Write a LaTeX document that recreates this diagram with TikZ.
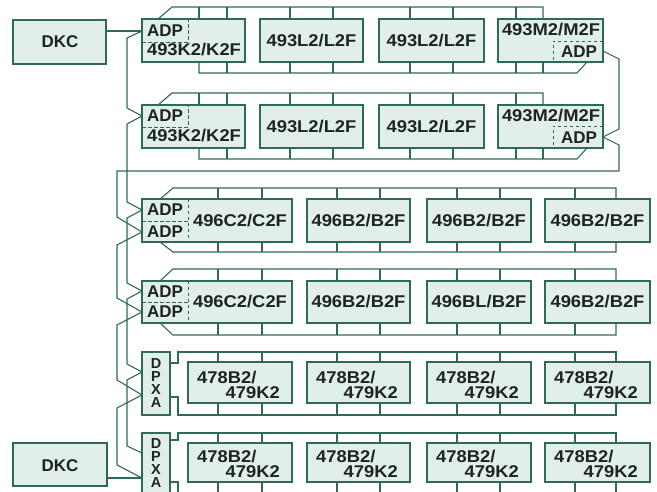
\documentclass[tikz,border=0pt]{standalone}
\usepackage{fontspec}
\setmainfont{Liberation Sans}
\newfontfamily\labf[FakeStretch=1.08]{Liberation Sans}
\definecolor{lc}{HTML}{2E6B57}
\definecolor{bf}{HTML}{E2EEE8}
\definecolor{tc}{HTML}{1E2421}
\tikzset{
 box/.style={draw=lc, fill=bf, line width=1.1pt, inner sep=0pt, outer sep=0pt, anchor=north west},
 wire/.style={draw=lc, line width=1.1pt},
 dsh/.style={draw=lc, line width=0.9pt, dash pattern=on 3.5pt off 2.5pt},
 txt/.style={text=tc, font=\bfseries\fontsize{17}{17}\selectfont, inner sep=0pt, text height=12pt, text depth=0pt},
 vtxt/.style={text=tc, font=\bfseries\fontsize{14.5}{15}\selectfont, inner sep=0pt, text height=10.4pt, text depth=0pt},
 mtxt/.style={text=tc, font=\labf\bfseries\fontsize{17}{17}\selectfont, inner sep=0pt, text height=12pt, text depth=0pt},
}
\newcommand\bx[5]{\node[box, minimum width={(#4-#2)*1pt}, minimum height={(#5-#3)*1pt}] (#1) at (#2,#3) {};}
\begin{document}
\begin{tikzpicture}[x=1pt,y=-1pt]
\useasboundingbox (0,0) rectangle (657,492);
\clip (0,0) rectangle (657,492);
\fill[white] (0,0) rectangle (657,492);

% ---- buses rows 1-2
\foreach \t/\u/\b/\d in {7/19/62/73, 93/105/148/159}{
  \draw[wire] (158,\u) -- (172,\t) -- (543,\t) -- (543,\u);
  \foreach \x in {199,227,290,333,410,453,516} \draw[wire] (\x,\t) -- (\x,\u);
  \draw[wire] (199,\b) -- (199,\d) -- (577,\d) -- (587,\b);
  \foreach \x in {227,290,333,410,453,516,543} \draw[wire] (\x,\b) -- (\x,\d);
}
% ---- buses rows 3-4
\foreach \t/\u/\b/\d in {188/199/242/252, 269/281/323/335}{
  \draw[wire] (160,\u) -- (173,\t) -- (616,\t) -- (616,\u);
  \draw[wire] (160,\b) -- (173,\d) -- (616,\d) -- (616,\b);
  \foreach \x in {218,262,337,380,457,500,575}{
    \draw[wire] (\x,\t) -- (\x,\u);
    \draw[wire] (\x,\b) -- (\x,\d);
  }
}
% ---- buses rows 5-6
\draw[wire] (170,363) -- (178,363) -- (178,352) -- (616,352) -- (616,362);
\draw[wire] (170,397) -- (178,397) -- (178,415) -- (616,415) -- (616,403);
\foreach \x in {218,262,337,380,457,500,575}{
  \draw[wire] (\x,352) -- (\x,362);
  \draw[wire] (\x,403) -- (\x,415);
}
\draw[wire] (170,440) -- (178,440) -- (178,433) -- (616,433) -- (616,443);
\draw[wire] (170,482) -- (178,482) -- (178,500);
\foreach \x in {218,262,337,380,457,500,575}{
  \draw[wire] (\x,433) -- (\x,443);
}
\foreach \x in {218,262,337,380,457,500,575,616}{
  \draw[wire] (\x,482) -- (\x,500);
}

% ---- chains
\draw[wire] (106,31) -- (142,31);
\draw[wire] (142,31) -- (127,38) -- (127,108) -- (142,116) -- (127,124) -- (127,202) -- (142,210)
  -- (127,218) -- (127,283) -- (142,291) -- (127,299) -- (127,364) -- (142,372) -- (127,380)
  -- (127,446) -- (142,453);
\draw[wire] (603,51) -- (619,59) -- (619,129) -- (603,137) -- (619,145) -- (619,171) -- (117,171)
  -- (117,217) -- (142,232) -- (117,245) -- (117,298) -- (142,312) -- (117,325) -- (117,380)
  -- (142,395) -- (117,408) -- (117,465) -- (142,478);
\draw[wire] (107,478) -- (142,478);

% ---- boxes
\bx{k1}{13}{20}{106}{64}
\bx{k2}{13}{443}{107}{486}
\bx{a1}{142}{19}{245}{62} \bx{a2}{260}{19}{363}{62} \bx{a3}{379}{19}{484}{62} \bx{a4}{498}{19}{603}{62}
\bx{b1}{142}{105}{245}{148} \bx{b2}{260}{105}{363}{148} \bx{b3}{379}{105}{484}{148} \bx{b4}{498}{105}{603}{148}
\bx{c1}{142}{199}{292}{242} \bx{c2}{307}{199}{410}{242} \bx{c3}{427}{199}{531}{242} \bx{c4}{545}{199}{650}{242}
\bx{d1}{142}{281}{292}{323} \bx{d2}{307}{281}{410}{323} \bx{d3}{427}{281}{531}{323} \bx{d4}{545}{281}{650}{323}
\bx{e0}{142}{352}{170}{415}
\bx{e1}{188}{362}{292}{403} \bx{e2}{307}{362}{410}{403} \bx{e3}{427}{362}{531}{403} \bx{e4}{545}{362}{650}{403}
\bx{f0}{142}{433}{170}{500}
\bx{f1}{188}{443}{292}{482} \bx{f2}{307}{443}{410}{482} \bx{f3}{427}{443}{531}{482} \bx{f4}{545}{443}{650}{482}

% ---- dashed separators
\draw[dsh] (142,42) -- (188,42) -- (188,19);
\draw[dsh] (142,127) -- (188,127) -- (188,105);
\draw[dsh] (603,41) -- (553,41) -- (553,62);
\draw[dsh] (603,126) -- (553,126) -- (553,148);
\draw[dsh] (142,221) -- (188,221); \draw[dsh] (188,199) -- (188,242);
\draw[dsh] (142,302) -- (188,302); \draw[dsh] (188,281) -- (188,323);

% ---- texts
\node[txt] (tk1) at (60,42) {DKC};
\node[txt] (tk2) at (60,465) {DKC};
\node[txt] (ta0) at (165,31) {ADP};
\node[mtxt] (ta1) at (194,50) {493K2/K2F};
\node[mtxt] (ta2) at (311.5,41) {493L2/L2F};
\node[mtxt] (ta3) at (431.5,41) {493L2/L2F};
\node[mtxt] (ta4) at (551,30) {493M2/M2F};
\node[txt] (ta5) at (579,52) {ADP};
\node[txt] (tb0) at (165,116) {ADP};
\node[mtxt] (tb1) at (194,136) {493K2/K2F};
\node[mtxt] (tb2) at (311.5,127) {493L2/L2F};
\node[mtxt] (tb3) at (431.5,127) {493L2/L2F};
\node[mtxt] (tb4) at (551,116) {493M2/M2F};
\node[txt] (tb5) at (579,138) {ADP};
\node[txt] (tc0) at (165,210) {ADP};
\node[txt] (tc5) at (165,232) {ADP};
\node[mtxt] (tc1) at (240,221) {496C2/C2F};
\node[mtxt] (tc2) at (358.5,221) {496B2/B2F};
\node[mtxt] (tc3) at (479,221) {496B2/B2F};
\node[mtxt] (tc4) at (597.5,221) {496B2/B2F};
\node[txt] (td0) at (165,292) {ADP};
\node[txt] (td5) at (165,312) {ADP};
\node[mtxt] (td1) at (240,302) {496C2/C2F};
\node[mtxt] (td2) at (358.5,302) {496B2/B2F};
\node[mtxt] (td3) at (479,302) {496BL/B2F};
\node[mtxt] (td4) at (597.5,302) {496B2/B2F};
\foreach \l/\y [count=\i] in {D/363,P/376,X/389,A/402}{
  \node[vtxt] (te\i) at (156,\y) {\l};
}
\foreach \l/\y [count=\i] in {D/443,P/456,X/469,A/482}{
  \node[vtxt] (tf\i) at (156,\y) {\l};
}
\foreach \n/\x/\X in {1/188/292, 2/307/410, 3/427/531, 4/545/650}{
  \node[mtxt, anchor=west] (eu\n) at (\x+9,377) {478B2/};
  \node[mtxt, anchor=east] (el\n) at (\X-12,392) {479K2};
  \node[mtxt, anchor=west] (fu\n) at (\x+9,456) {478B2/};
  \node[mtxt, anchor=east] (fl\n) at (\X-12,471) {479K2};
}
\end{tikzpicture}
\end{document}
